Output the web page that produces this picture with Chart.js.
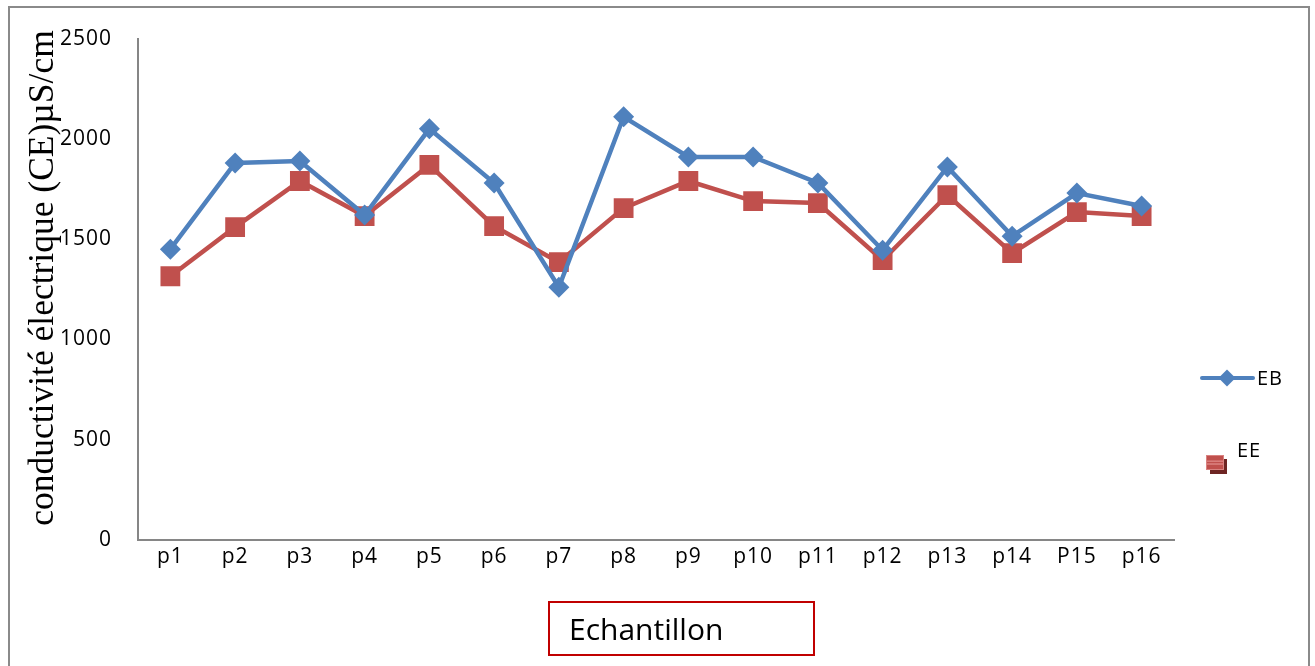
<!DOCTYPE html>
<html>
<head>
<meta charset="utf-8">
<script src="https://cdn.jsdelivr.net/npm/chart.js@4"></script>
<style>
  html, body { margin: 0; padding: 0; background: #ffffff; }
  #wrap { position: relative; width: 1315px; height: 666px; overflow: hidden; }
  #frame { position: absolute; left: 8px; top: 6px; width: 1302px; height: 680px; border: 2px solid #8a8a8a; box-sizing: border-box; }
  canvas { position: absolute; left: 0; top: 0; }
  .lbl { position: absolute; font-family: "Open Sans", sans-serif; color: #000; white-space: nowrap; }
  #ytitle { position: absolute; left: 41px; top: 278px; transform: translate(-50%, -50%) rotate(-90deg);
            font-family: "Liberation Serif", serif; font-size: 35.5px; line-height: 40px; color: #000; white-space: nowrap; }
  #xtitle { position: absolute; left: 548px; top: 601px; width: 267px; height: 55px; border: 2px solid #c00000; box-sizing: border-box; }
  #xtitle span { position: absolute; left: 19px; top: 9px; font-family: "Open Sans", sans-serif; font-size: 30px; line-height: 34px; color: #000; }
  .legLine { position: absolute; left: 1200px; top: 376px; width: 55px; height: 4px; background: #4F81BD; border-radius: 2px; }
  .legDiamond { position: absolute; left: 1221px; top: 372px; width: 12px; height: 12px; background: #4F81BD; transform: rotate(45deg); }
  .legSqShadow { position: absolute; left: 1210px; top: 459px; width: 17px; height: 15px; background: #6e2523; }
  .legSq { position: absolute; left: 1206px; top: 455px; width: 18px; height: 15px; box-sizing: border-box; border: 1px solid #d98280;
           background: linear-gradient(#c0504d 0%, #c0504d 30%, #e08a88 40%, #c0504d 50%, #e08a88 62%, #c0504d 72%, #c0504d 100%); }
</style>
</head>
<body>
<div id="wrap">
  <canvas id="c" width="1315" height="666"></canvas>
  <div id="frame"></div>
  <div id="ytitle">conductivité électrique (CE)µS/cm</div>
  <div id="xtitle"><span>Echantillon</span></div>
  <div class="legLine"></div>
  <div class="legDiamond"></div>
  <div class="lbl" style="left:1257px; top:364px; font-size:20px; letter-spacing:1px;">EB</div>
  <div class="legSqShadow"></div>
  <div class="legSq"></div>
  <div class="lbl" style="left:1237px; top:436px; font-size:20px; letter-spacing:1px;">EE</div>
</div>
<script>
// Sampling points
const categories = ['p1', 'p2', 'p3', 'p4', 'p5', 'p6', 'p7', 'p8', 'p9', 'p10', 'p11', 'p12', 'p13', 'p14', 'P15', 'p16'];
// Electrical conductivity (µS/cm)
const ebValues = [1450, 1880, 1890, 1620, 2050, 1780, 1260, 2110, 1910, 1910, 1780, 1445, 1860, 1515, 1730, 1665];
const eeValues = [1315, 1560, 1790, 1615, 1870, 1565, 1385, 1655, 1790, 1690, 1680, 1395, 1720, 1430, 1635, 1615];
const yTicks = [0, 500, 1000, 1500, 2000, 2500];

const tickFont = { family: '"Open Sans", sans-serif', size: 21 };
const axisGray = '#868686';

// Slightly wider tick labels: letter spacing applied only while the labels are drawn
const wideLabels = {
  id: 'wideLabels',
  beforeDraw(chart) {
    Object.values(chart.scales).forEach((scale) => {
      if (scale._wide) return;
      const draw = scale.drawLabels;
      scale.drawLabels = function (area) {
        const ctx = this.ctx;
        ctx.save();
        ctx.letterSpacing = '1px';
        draw.call(this, area);
        ctx.restore();
      };
      scale._wide = true;
    });
  }
};

new Chart(document.getElementById('c'), {
  type: 'line',
  data: {
    labels: categories,
    datasets: [
      {
        label: 'EB',
        data: ebValues,
        borderColor: '#4F81BD',
        backgroundColor: '#4F81BD',
        borderWidth: 4.5,
        pointStyle: 'rectRot',
        pointRadius: 10.5,
        pointBorderWidth: 0,
        tension: 0,
        order: 1
      },
      {
        label: 'EE',
        data: eeValues,
        borderColor: '#C0504D',
        backgroundColor: '#C0504D',
        borderWidth: 4.5,
        pointStyle: 'rect',
        pointRadius: 14,
        pointBorderWidth: 0,
        tension: 0,
        order: 2
      }
    ]
  },
  plugins: [wideLabels],
  options: {
    responsive: false,
    animation: false,
    layout: { padding: { top: 38, right: 141, left: 0, bottom: 0 } },
    plugins: { legend: { display: false }, tooltip: { enabled: false } },
    scales: {
      x: {
        offset: true,
        grid: { display: false, drawTicks: false },
        border: { display: true, color: axisGray, width: 2 },
        ticks: { color: '#000', font: tickFont, padding: 4, maxRotation: 0, autoSkip: false },
        afterFit: (s) => { s.height = 126; }
      },
      y: {
        min: 0,
        max: 2500,
        afterBuildTicks: (s) => { s.ticks = yTicks.map(v => ({ value: v })); },
        grid: { display: false, drawTicks: false },
        border: { display: true, color: axisGray, width: 2 },
        ticks: { color: '#000', font: tickFont, padding: 26, callback: (v) => String(v) },
        afterFit: (s) => { s.width = 138; }
      }
    }
  }
});
</script>
</body>
</html>
